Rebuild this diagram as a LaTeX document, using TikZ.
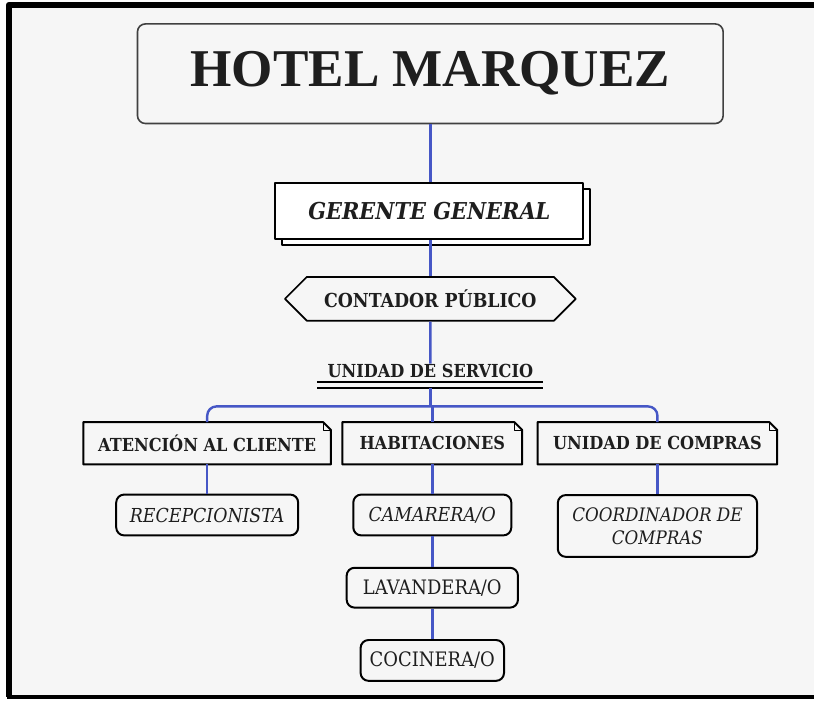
\documentclass[tikz,border=0pt]{standalone}
\usepackage{fontspec}
\setmainfont{DejaVu Serif}
\newfontfamily\titlefont{Liberation Serif}
\newfontfamily\decofont{DejaVu Serif Condensed}
\usetikzlibrary{shapes.symbols,shadows}
\definecolor{fondo}{HTML}{F6F6F6}
\definecolor{linea}{HTML}{4657C6}
\definecolor{tinta}{HTML}{1E1E1E}
\begin{document}
\begin{tikzpicture}[x=0.75pt,y=-0.75pt, line join=round, text=tinta,
	conn/.style={draw=linea, line width=1.8pt},
	titlebox/.style={draw=black!75, line width=1.2pt, rounded corners=6pt, fill=fondo, minimum width=441pt, minimum height=75pt, font=\titlefont\bfseries\fontsize{40}{42}\selectfont},
	jefebox/.style={draw=black, line width=1.5pt, fill=white, minimum width=232pt, minimum height=42pt, copy shadow={shadow xshift=5pt, shadow yshift=-4.5pt}, font=\decofont\bfseries\itshape\fontsize{17.5}{19}\selectfont},
	hexbox/.style={signal, signal to=west and east, signal pointer angle=90, draw=black, line width=1.3pt, fill=fondo, minimum width=219pt, minimum height=33pt, inner xsep=2pt, font=\decofont\fontsize{14.5}{16}\selectfont\bfseries},
	notabox/.style={minimum height=31.5pt, inner sep=0pt, font=\decofont\bfseries\fontsize{13.5}{15}\selectfont},
	cargo/.style={draw=black, line width=1.5pt, rounded corners=6pt, fill=fondo, minimum height=30.75pt, inner sep=0pt, align=center, font=\decofont\fontsize{15}{17}\selectfont},
	puesto/.style={cargo, font=\decofont\itshape\fontsize{14.5}{17}\selectfont},
	]
	% fondo y marco
	\fill[white] (0,0) rectangle (817,702);
	\fill[fondo] (12,8) rectangle (817,698);
	\draw[line width=4.8pt] (817,5) -- (9,5) -- (9,700);
	\draw[line width=3pt] (7,700) -- (817,700);
	% niveles superiores
	\node[titlebox] (hotel) at (432,74) {HOTEL MARQUEZ};
	\node[jefebox] (gerente) at (431,212) {GERENTE GENERAL};
	\node[hexbox] (contador) at (432,300) {CONTADOR PÚBLICO};
	\node[inner sep=0pt, minimum width=170pt, font=\decofont\bfseries\fontsize{13.5}{15}\selectfont] (unidad) at (432,372) {UNIDAD DE SERVICIO};
	\draw[line width=1.5pt] ([yshift=-3pt]unidad.south west) -- ([yshift=-3pt]unidad.south east);
	\draw[line width=1.5pt] ([yshift=-7.5pt]unidad.south west) -- ([yshift=-7.5pt]unidad.south east);
	% areas
	\node[notabox, minimum width=186pt] (aten) at (208,445) {ATENCIÓN AL CLIENTE};
	\node[notabox, minimum width=135pt] (habi) at (434,445) {HABITACIONES};
	\node[notabox, minimum width=180pt] (comp) at (660,445) {UNIDAD DE COMPRAS};
	\foreach \n in {aten,habi,comp}{
		\draw[line width=1.5pt] (\n.south west) -- (\n.north west) -- ([xshift=-6pt]\n.north east) -- ([yshift=-6pt]\n.north east) -- (\n.south east) -- cycle;
		\draw[line width=0.7pt] ([xshift=-6pt]\n.north east) -- ([xshift=-6pt,yshift=-6pt]\n.north east) -- ([yshift=-6pt]\n.north east);
	}
	% cargos
	\node[puesto, minimum width=137pt] (recep) at (208,517) {RECEPCIONISTA};
	\node[puesto, minimum width=119pt] (cama) at (434,517) {CAMARERA/O};
	\node[puesto, minimum width=150pt, minimum height=46.5pt, font=\decofont\itshape\fontsize{14}{17}\selectfont] (coord) at (660,528) {COORDINADOR DE\\COMPRAS};
	\node[cargo, minimum width=129pt, minimum height=30pt] (lava) at (434,590) {LAVANDERA/O};
	\node[cargo, minimum width=108pt] (coci) at (434,663) {COCINERA/O};
	% conectores
	\coordinate (fork) at (432,408);
	\draw[conn] (hotel.south) -- (hotel.south |- gerente.north);
	\draw[conn] (gerente.south -| hotel.south) -- (hotel.south |- contador.north);
	\draw[conn] (contador) -- (unidad);
	\draw[conn] ([yshift=-7.5pt]unidad.south) -- (fork);
	\draw[conn] (fork -| habi.north) -- (habi.north);
	\draw[conn, rounded corners=7pt] (aten.north) |- (fork) -| (comp.north);
	\draw[conn] (aten) -- (recep);
	\draw[conn] (habi) -- (cama);
	\draw[conn] (cama) -- (lava);
	\draw[conn] (lava) -- (coci);
	\draw[conn] (comp) -- (coord);
\end{tikzpicture}
\end{document}
